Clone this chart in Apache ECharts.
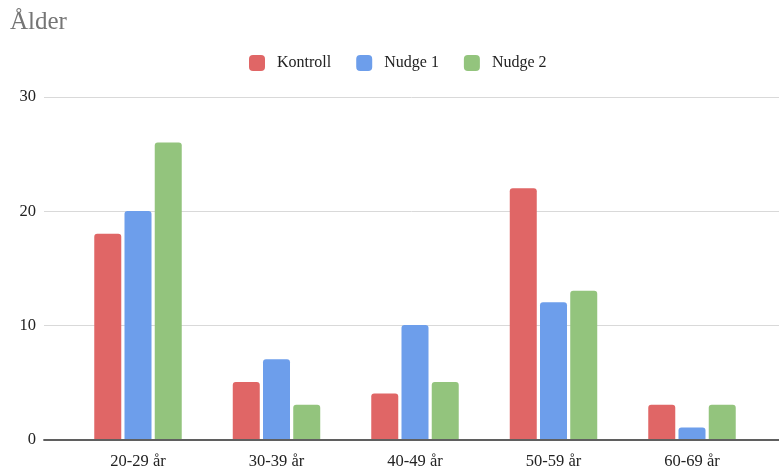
<!DOCTYPE html>
<html>
<head>
<meta charset="utf-8">
<style>
  html, body { margin: 0; padding: 0; background: #fff; }
  #chart { width: 779px; height: 470px; }
</style>
<script src="https://cdn.jsdelivr.net/npm/echarts@6/dist/echarts.min.js"></script>
</head>
<body>
<div id="chart"></div>
<script>
// Age groups and respondent counts per group
const categories = ['20-29 år', '30-39 år', '40-49 år', '50-59 år', '60-69 år'];
const kontroll = [18, 5, 4, 22, 3];
const nudge1 = [20, 7, 10, 12, 1];
const nudge2 = [26, 3, 5, 13, 3];
const yTicks = [0, 10, 20, 30];

const serif = '"Liberation Serif", "DejaVu Serif", serif';
const colors = ['#e06666', '#6d9eeb', '#93c47d'];

const chart = echarts.init(document.getElementById('chart'), null, { renderer: 'canvas' });

function barSeries(name, data, color) {
  return {
    name: name,
    type: 'bar',
    xAxisIndex: 1,
    yAxisIndex: 1,
    data: data,
    barWidth: 27,
    barGap: '12%',
    itemStyle: { color: color, borderRadius: [3, 3, 0, 0] },
    emphasis: { disabled: true }
  };
}

chart.setOption({
  animation: false,
  color: colors,
  title: {
    text: 'Ålder',
    left: 5,
    top: 5,
    textStyle: { fontFamily: serif, fontSize: 25, fontWeight: 'normal', color: '#757575' }
  },
  legend: {
    top: 50,
    left: 244,
    itemWidth: 16,
    itemHeight: 16,
    itemGap: 25,
    icon: 'roundRect',
    textStyle: { fontFamily: serif, fontSize: 16, color: '#222', padding: [0, 0, 0, 7] },
    data: ['Kontroll', 'Nudge 1', 'Nudge 2']
  },
  grid: [
    // full-width frame: y labels, gridlines and baseline
    { left: 44, right: 0, top: 97, bottom: 30 },
    // inset plotting band for the bars
    { left: 68.75, right: 17.75, top: 97, bottom: 30 }
  ],
  xAxis: [
    {
      type: 'value',
      gridIndex: 0,
      min: 0,
      max: 1,
      z: 5,
      axisLine: { show: true, onZero: false, lineStyle: { color: '#5f5f5f', width: 1.8 } },
      axisTick: { show: false },
      axisLabel: { show: false },
      splitLine: { show: false }
    },
    {
      type: 'category',
      gridIndex: 1,
      data: categories,
      axisLine: { show: false },
      axisTick: { show: false },
      axisLabel: { fontFamily: serif, fontSize: 16.5, color: '#222', margin: 14 }
    }
  ],
  yAxis: [
    {
      type: 'value',
      gridIndex: 0,
      min: yTicks[0],
      max: yTicks[yTicks.length - 1],
      interval: 10,
      axisLine: { show: false },
      axisTick: { show: false },
      axisLabel: { fontFamily: serif, fontSize: 16.5, color: '#222', margin: 8 },
      splitLine: { lineStyle: { color: '#d9d9d9', width: 1 } }
    },
    {
      type: 'value',
      gridIndex: 1,
      min: yTicks[0],
      max: yTicks[yTicks.length - 1],
      interval: 10,
      show: false,
      splitLine: { show: false }
    }
  ],
  series: [
    barSeries('Kontroll', kontroll, colors[0]),
    barSeries('Nudge 1', nudge1, colors[1]),
    barSeries('Nudge 2', nudge2, colors[2])
  ]
});
</script>
</body>
</html>
